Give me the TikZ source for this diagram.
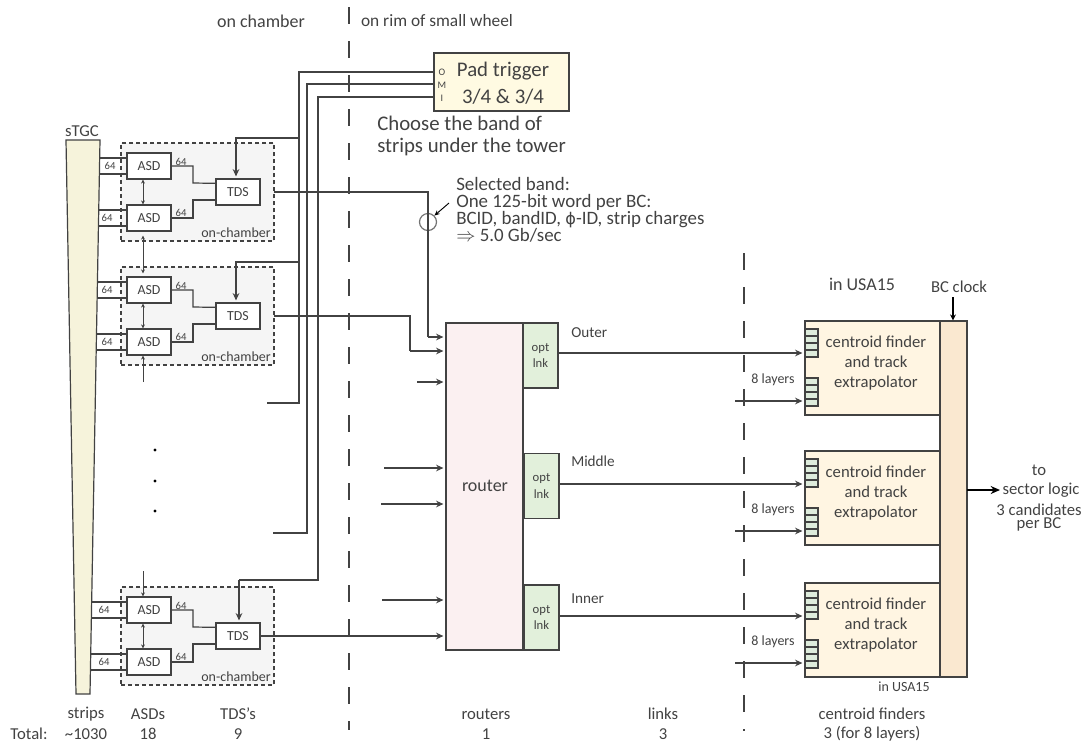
\documentclass[tikz,border=0pt]{standalone}
\usepackage{fontspec}
\setmainfont{Carlito}
\newfontfamily\symfont[Scale=0.85]{DejaVu Sans}
\usetikzlibrary{arrows.meta}
\definecolor{inkgray}{RGB}{66,66,66}
\definecolor{stgcfill}{RGB}{246,243,219}
\definecolor{padfill}{RGB}{255,250,226}
\definecolor{routerfill}{RGB}{251,240,241}
\definecolor{linkfill}{RGB}{226,240,219}
\definecolor{cffill}{RGB}{255,245,226}
\definecolor{barfill}{RGB}{250,232,208}
\definecolor{cellfill}{RGB}{222,236,220}
\tikzset{
  txtlarge/.style={font=\fontsize{15.6}{16.5}\selectfont,text=inkgray,inner sep=0pt,align=center},
  txtbig/.style={font=\fontsize{13.5}{15}\selectfont,text=inkgray,inner sep=0pt,align=center},
  txtmid/.style={font=\fontsize{12.5}{15}\selectfont,text=inkgray,inner sep=0pt,align=center},
  txtsmall/.style={font=\fontsize{10.5}{12}\selectfont,text=inkgray,inner sep=0pt,align=center},
  txttiny/.style={font=\fontsize{8}{9}\selectfont,text=inkgray,inner sep=0pt},
  wire/.style={draw=inkgray,line width=0.9pt},
  arrwire/.style={wire,-{Stealth[length=5.5pt,width=5pt]},shorten >=1.5pt},
  updown/.style={draw=inkgray,line width=0.6pt,{Stealth[length=3pt,width=3pt]}-{Stealth[length=3pt,width=3pt]}},
  updownend/.style={draw=inkgray,line width=0.6pt,-{Stealth[length=3pt,width=3pt]}},
  chamber/.style={draw=inkgray,dashed,dash pattern=on 3pt off 2.25pt,line width=0.8pt,fill=black!4,minimum width=114.75pt,minimum height=73.5pt,inner sep=0pt},
  asdbox/.style={draw=inkgray,fill=white,line width=0.9pt,minimum width=33pt,minimum height=19.5pt,inner sep=0pt,font=\fontsize{10.4}{11}\selectfont,text=inkgray},
  tdsbox/.style={asdbox},
  optbox/.style={draw=inkgray,fill=linkfill,line width=0.9pt,minimum width=26.25pt,minimum height=48.75pt,inner sep=0pt,align=center,font=\fontsize{9.5}{12.3}\selectfont,text=inkgray},
  cfbox/.style={draw=inkgray,fill=cffill,line width=0.9pt,minimum width=101.25pt,minimum height=70.5pt,inner sep=0pt},
  wallline/.style={draw=inkgray,line width=0.9pt,dash pattern=on 12.5pt off 13pt},
}
\begin{document}
\begin{tikzpicture}[x=0.75pt,y=-0.75pt]
\useasboundingbox (0,0) rectangle (1086,744);

% site boundaries
\draw[wallline] (349,7) -- (349,730);
\draw[wallline] (744,253) -- (744,731);

% chambers
\foreach \c/\y/\sa/\sb/\la/\lb in {a/0/99.5/98.5/110/107,b/124/97.3/96.4/107/107,c/444/92/91/104/104} {
  \node[chamber] (cham\c) at (197.5,192+\y) {};
  \node[asdbox] (asd\c1) at (149,166+\y) {ASD};
  \node[asdbox] (asd\c2) at (149,218+\y) {ASD};
  \node[tdsbox] (tds\c) at (238,192+\y) {TDS};
  \node[txtsmall,anchor=east] (onch\c) at (271,233+\y) {on-chamber};
  \coordinate (st\c1) at (\sa,166+\y);
  \coordinate (st\c2) at (\sb,218+\y);
  \draw[wire] ([yshift=6pt]st\c1) -- ([yshift=6pt]asd\c1.west);
  \draw[wire] ([yshift=-6pt]st\c1) -- ([yshift=-6pt]asd\c1.west);
  \draw[wire] ([yshift=6pt]st\c2) -- ([yshift=6pt]asd\c2.west);
  \draw[wire] ([yshift=-6pt]st\c2) -- ([yshift=-6pt]asd\c2.west);
  \node[txttiny] (nin\c1) at (\la,166+\y) {64};
  \node[txttiny] (nin\c2) at (\lb,218+\y) {64};
  \node[txttiny] (nout\c1) at (181,162+\y) {64};
  \node[txttiny] (nout\c2) at (181,213+\y) {64};
  \draw[wire] (asd\c1.east) -| (193,183+\y) -- ([yshift=6.5pt]tds\c.west);
  \draw[wire] (asd\c2.east) -| (193,200+\y) -- ([yshift=-6pt]tds\c.west);
  \draw[updown] ([xshift=-4.5pt]asd\c1.south) -- ([xshift=-4.5pt]asd\c2.north);
}
\draw[updown,shorten <=3pt,shorten >=2.25pt] ([xshift=-4.5pt]asda2.south) -- ([xshift=-4.5pt]asdb1.north);
\coordinate (endb) at (143,382);
\coordinate (endc) at (143,571);
\draw[updownend] (endb) -- ([xshift=-4.5pt]asdb2.south);
\draw[updownend] (endc) -- ([xshift=-4.5pt]asdc1.north);

% strips
\filldraw[draw=inkgray,fill=stgcfill,line width=0.9pt] (66,140) -- (100,140) -- (90,694) -- (76,694) -- cycle;
\node[txtmid] (stgc) at (82,131) {sTGC};

% pad trigger
\node[draw=inkgray,fill=padfill,line width=0.9pt,minimum width=101.25pt,minimum height=43.5pt,inner sep=0pt] (padtrig) at (501.5,82) {};
\node[txtlarge] (padone) at (503,71) {Pad trigger};
\node[txtlarge] (padtwo) at (503,97) {3/4 \& 3/4};
\foreach \n/\l/\y in {o/O/72,m/M/85,i/I/98}
  \node[font=\fontsize{7.5}{8}\selectfont,text=inkgray,inner sep=0pt] (pad\n) at (442,\y) {\l};
\coordinate (oturn) at (299,403);
\coordinate (oend) at (267,403);
\coordinate (mturn) at (307,533);
\coordinate (mend) at (273,533);
\coordinate (iturn) at (318,580);
\coordinate (iend) at (239,580);
\coordinate (obra) at (299,138);
\coordinate (obrb) at (299,262);
\draw[wire] ([yshift=7.5pt]padtrig.west) -| (oturn) -- (oend);
\draw[wire] ([yshift=-1.5pt]padtrig.west) -| (mturn) -- (mend);
\draw[wire] ([yshift=-11.25pt]padtrig.west) -| (iturn) -- (iend);
\draw[arrwire] (obra) -| ([xshift=-1.5pt]tdsa.north);
\draw[arrwire] (obrb) -| ([xshift=-1.5pt]tdsb.north);
\draw[arrwire] (iend) -- ([xshift=0.75pt]tdsc.north);
\node[txtlarge,anchor=west,align=left] (choose) at (377,136) {Choose the band of\\strips under the tower};

% router and links
\node[draw=inkgray,fill=routerfill,line width=0.9pt,minimum width=57.75pt,minimum height=245.25pt,inner sep=0pt] (router) at (484.5,486.5) {};
\node[txtbig] (routerlab) at (485,486) {router};
\node[optbox] (opta) at (540.5,355.5) {opt\\lnk};
\node[optbox] (optb) at (541.5,486) {opt\\lnk};
\node[optbox] (optc) at (541.5,617.5) {opt\\lnk};
\node[txtsmall,anchor=west,font=\fontsize{11.4}{12}\selectfont] (outer) at (571,333) {Outer};
\node[txtsmall,anchor=west,font=\fontsize{11.4}{12}\selectfont] (middle) at (571,461) {Middle};
\node[txtsmall,anchor=west,font=\fontsize{11.4}{12}\selectfont] (inner) at (571,599) {Inner};

% tds outputs
\coordinate (outa) at (274,192);
\coordinate (outb) at (274,316);
\coordinate (turna) at (428,337);
\coordinate (turnb) at (410,351);
\node[circle,draw=black!55,line width=0.9pt,minimum size=12.75pt,inner sep=0pt] (selband) at (428,222) {};
\draw[wire] (outa) -| (turna);
\draw[arrwire] (turna) -- (turna -| router.west);
\draw[wire] (outb) -| (turnb);
\draw[arrwire] (turnb) -- (turnb -| router.west);
\draw[arrwire] (tdsc.east) -- (tdsc.east -| router.west);
\foreach \n/\x/\y in {1/417/382,2/384/468,3/381/504,4/382/600} {
  \coordinate (rin\n) at (\x,\y);
  \draw[arrwire] (rin\n) -- (rin\n -| router.west);
}
\coordinate (selfrom) at (449,203);
\draw[draw=black,line width=0.7pt,-{Stealth[length=4pt,width=3.5pt]}] (selfrom) -- (selband.45);
\node[txtmid,anchor=west,align=left,font=\fontsize{14.2}{12.6}\selectfont] (seltext) at (456,210) {Selected band:\\One 125-bit word per BC:\\BCID, bandID, {\symfont ϕ}-ID, strip charges\\$\Rightarrow$ 5.0 Gb/sec};

% centroid finders
\node[draw=inkgray,fill=barfill,line width=0.9pt,minimum width=20.25pt,minimum height=267pt,inner sep=0pt] (clockbar) at (953.5,499) {};
\foreach \c/\y/\xo/\yo in {a/0/558/353,b/130/559/484,c/262/559/616} {
  \node[cfbox] (cf\c) at (872.5,368+\y) {};
  \node[txtmid,font=\fontsize{12.5}{15.3}\selectfont] (cftext\c) at (876,363+\y) {centroid finder\\and track\\extrapolator};
  \foreach \k in {0,1,2,3} {
    \filldraw[draw=inkgray,fill=cellfill,line width=0.8pt] (805,329+\y+\k*7) rectangle (818,336+\y+\k*7);
    \filldraw[draw=inkgray,fill=cellfill,line width=0.8pt] (805,378+\y+\k*7) rectangle (818,385+\y+\k*7);
  }
  \coordinate (link\c) at (\xo,\yo);
  \coordinate (extra\c) at (735,401+\y);
  \draw[arrwire] (link\c) -- (link\c -| cf\c.west);
  \draw[arrwire] (extra\c) -- (extra\c -| cf\c.west);
  \node[txtsmall] (lay\c) at (773,380+\y) {8 layers};
}
\node[txtsmall] (usasmall) at (904,687) {in USA15};
\node[txtmid] (bcclock) at (959,287) {BC clock};
\coordinate (clockin) at (953,297);
\draw[draw=black,line width=0.8pt,-{Stealth[length=4.5pt,width=4.5pt]}] (clockin) -- (clockin |- clockbar.north);
\coordinate (barout) at (967,490);
\coordinate (barend) at (1000,490);
\draw[draw=black,line width=1.2pt,-{Stealth[length=7pt,width=6pt]}] (barout) -- (barend);
\node[txtmid] (to) at (1039,470) {to};
\node[txtmid] (seclog) at (1041,490) {sector logic};
\node[txtmid,font=\fontsize{12.5}{10.2}\selectfont] (cands) at (1039,517.5) {3 candidates\\per BC};

% headings
\node[txtbig] (hchamber) at (261,21) {on chamber};
\node[txtbig,font=\fontsize{13}{15}\selectfont] (hrim) at (437,21) {on rim of small wheel};
\node[txtbig] (husa) at (862,284) {in USA15};

% dots
\foreach \n/\y in {1/450,2/481,3/511}
  \fill[black] (155,\y) circle (1.6);

% totals
\foreach \n/\x/\a/\b in {s/86/strips/{\textasciitilde1030},a/148/ASDs/18,t/238/TDS’s/9,r/486/routers/1,l/663/links/3,c/872/centroid finders/3 (for 8 layers)} {
  \node[txtmid] (tota\n) at (\x,714) {\a};
  \node[txtmid] (totb\n) at (\x,734) {\b};
}
\node[txtmid] (total) at (29,734) {Total:};
\end{tikzpicture}
\end{document}
